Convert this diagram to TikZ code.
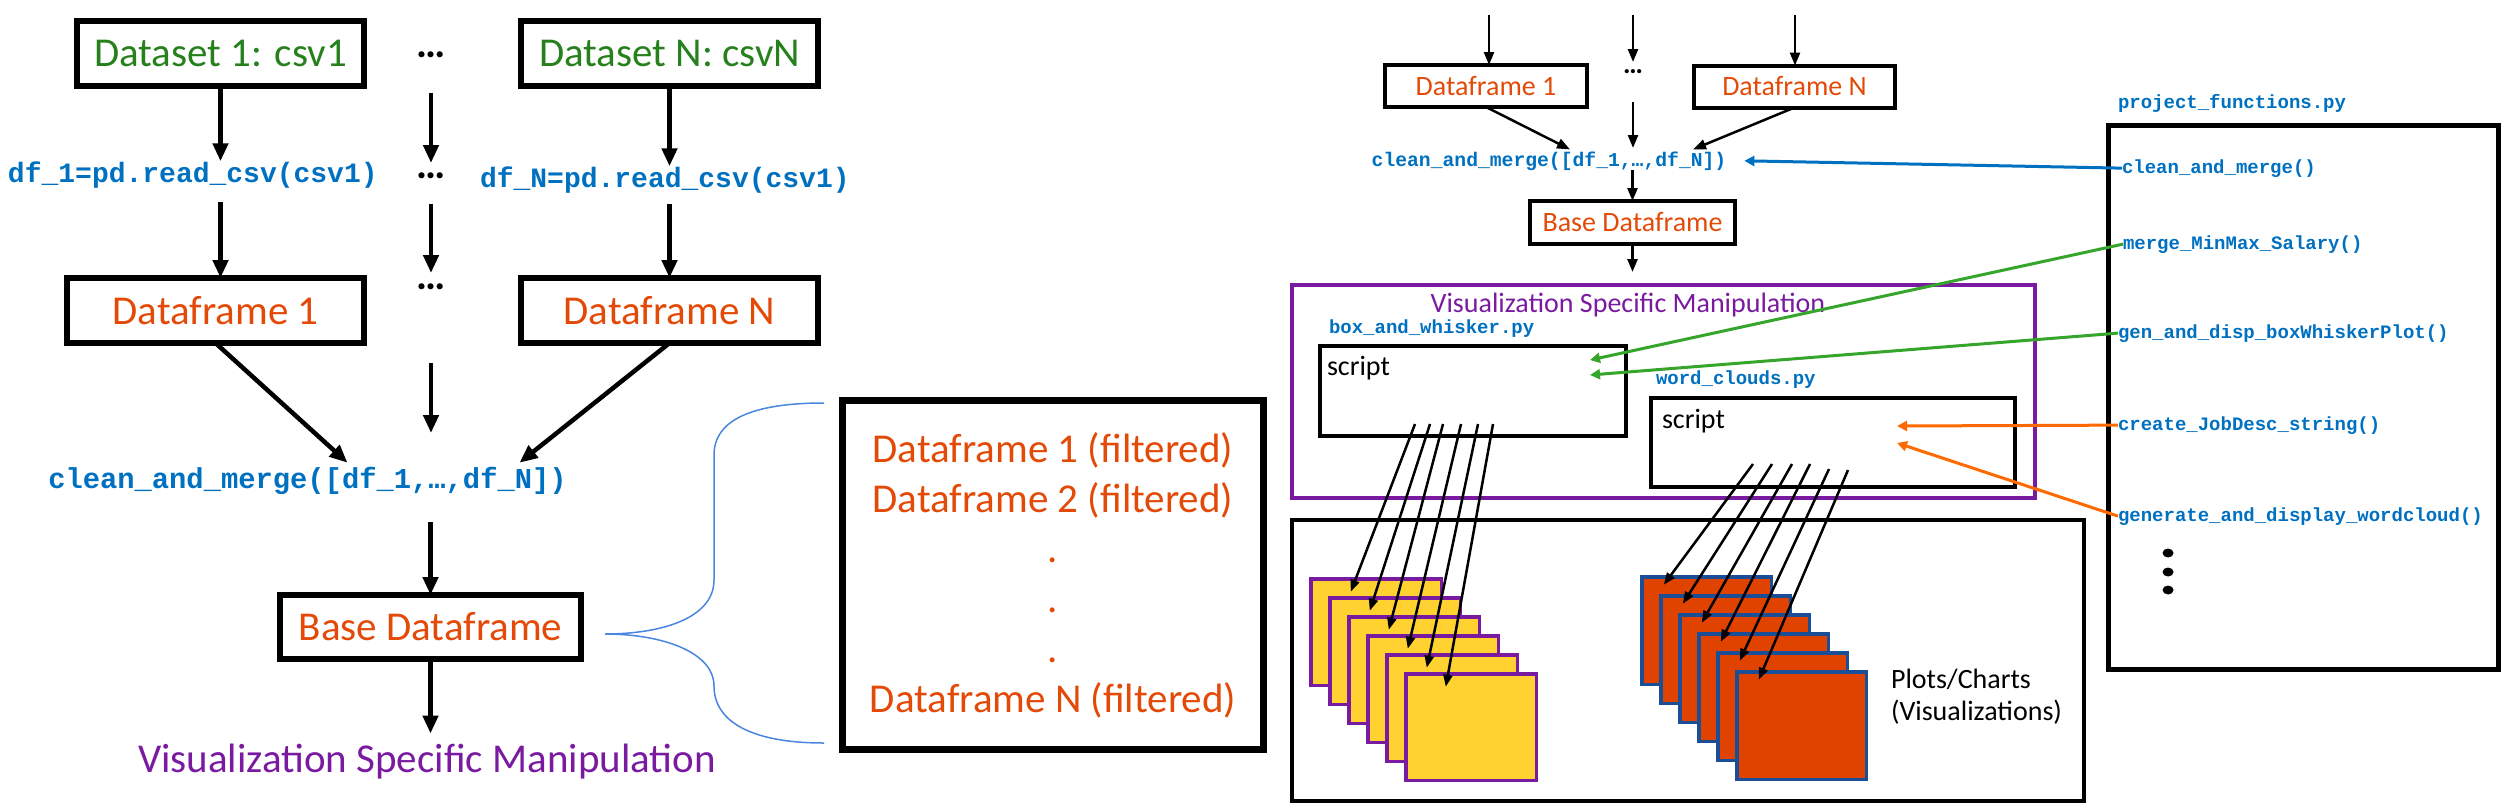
\documentclass[tikz,border=0pt]{standalone}
\usepackage{fontspec}
\setmainfont{Carlito}
\newfontfamily\codefont{Liberation Mono}
\usetikzlibrary{arrows.meta,calc}
\definecolor{dsgreen}{HTML}{26801C}
\definecolor{dforange}{HTML}{E34A08}
\definecolor{codeblue}{HTML}{0070C0}
\definecolor{vizpurple}{HTML}{7A1AA0}
\definecolor{sqyellow}{HTML}{FFD232}
\definecolor{sqred}{HTML}{E04300}
\definecolor{sqblue}{HTML}{1A4F98}
\definecolor{lngreen}{HTML}{36A52B}
\definecolor{lnorange}{HTML}{FF6A00}
\definecolor{bracecol}{HTML}{4A86E0}
\newcommand\myfs[2]{\fontsize{#1}{#2}\selectfont}
\begin{document}
\begin{tikzpicture}[x=1pt,y=-1pt,
 every node/.style={inner sep=0pt,outer sep=0pt},
 bigbox/.style={draw,line width=6pt},
 smallbox/.style={draw,line width=4pt},
 arrL/.style={line width=4.5pt,-{Triangle[length=18pt,width=15pt]}},
 arrR/.style={line width=2.5pt,-{Triangle[length=13pt,width=10pt]}},
 arrS/.style={line width=2.5pt,-{Triangle[length=12pt,width=9pt]}},
 arrC/.style={line width=3pt,-{Triangle[length=10pt,width=10pt]}},
 bigtxt/.style={font=\myfs{41}{50}},
 midtxt/.style={font=\myfs{28}{32}},
 dotsL/.style={font=\myfs{41}{50}\bfseries,anchor=base},
 dotsR/.style={font=\myfs{28}{32}\bfseries,anchor=base},
 codeL/.style={font=\codefont\bfseries\myfs{28}{32},text=codeblue},
 codeR/.style={font=\codefont\bfseries\myfs{19}{22},text=codeblue},
 ysq/.style={draw=vizpurple,fill=sqyellow,line width=3.5pt,minimum width=130.5pt,minimum height=106.5pt},
 rsq/.style={draw=sqblue,fill=sqred,line width=3.5pt,minimum width=129.5pt,minimum height=107.5pt},
 bracestyle/.style={draw=bracecol,line width=1.5pt}
]
\useasboundingbox (0,0) rectangle (2510,811);

% ---------------- left part ----------------
\node[bigbox,minimum width=287pt,minimum height=65pt,text=dsgreen,bigtxt] (ds1) at (220.5,53.5) {Dataset 1: csv1};
\node[bigbox,minimum width=297pt,minimum height=65pt,text=dsgreen,bigtxt] (dsN) at (669.5,53.5) {Dataset N: csvN};
\node[dotsL] (dA) at (431,57) {…};
\node[codeL,anchor=base west] (c1) at (8,182) {df\_1=pd.read\_csv(csv1)};
\node[dotsL] (dB) at (431,178) {…};
\node[codeL,anchor=base west] (cN) at (480,187) {df\_N=pd.read\_csv(csv1)};
\node[bigbox,minimum width=297pt,minimum height=65pt,text=dforange,bigtxt] (df1) at (215.5,310.5) {Dataframe 1};
\node[dotsL] (dC) at (431,289) {…};
\node[bigbox,minimum width=297pt,minimum height=65pt,text=dforange,bigtxt] (dfN) at (669.5,310.5) {Dataframe N};
\node[codeL,font=\codefont\bfseries\myfs{28.8}{32},anchor=base] (cm1) at (307.5,488) {clean\_and\_merge([df\_1,…,df\_N])};
\node[bigbox,minimum width=301pt,minimum height=64pt,text=dforange,bigtxt] (base1) at (430.5,627) {Base Dataframe};
\node[text=vizpurple,bigtxt,anchor=base] (viz1) at (427,772) {Visualization Specific Manipulation};
\node[draw,line width=7pt,minimum width=421pt,minimum height=349pt,text=dforange,bigtxt,align=center] (filt) at (1053,575)
  {Dataframe 1 (filtered)\\Dataframe 2 (filtered)\\.\\.\\.\\Dataframe N (filtered)};

\coordinate (mA1) at (431,93);  \coordinate (mA2) at (431,163);
\coordinate (mB1) at (431,204); \coordinate (mB2) at (431,273);
\coordinate (mC1) at (431,363); \coordinate (mC2) at (431,433);

\draw[arrL] (ds1.south) -- (ds1.south |- c1.north);
\draw[arrL] (dsN.south) -- (dsN.south |- cN.north);
\draw[arrL] (mA1) -- (mA2);
\draw[arrL,shorten <=14pt] (ds1.south |- c1.south) -- (ds1.south |- df1.north);
\draw[arrL,shorten <=11pt] (dsN.south |- cN.south) -- (dsN.south |- dfN.north);
\draw[arrL] (mB1) -- (mB2);
\draw[arrL] (df1.south) -- ([xshift=40pt,yshift=4pt]cm1.north);
\draw[arrL] (dfN.south) -- ([xshift=212pt,yshift=4pt]cm1.north);
\draw[arrL] (mC1) -- (mC2);
\draw[arrL,shorten <=28pt] (base1.north |- cm1.south) -- (base1.north);
\draw[arrL] (base1.south) -- ([yshift=10pt]base1.south |- viz1.north);

% brace
\draw[bracestyle] (824,403) .. controls (752,403) and (714,420) .. (714,455) -- (714,580)
  .. controls (714,618) and (662,634) .. (605,634)
  .. controls (662,634) and (714,652) .. (714,686)
  .. controls (714,722) and (752,743) .. (824,743);

% ---------------- right part ----------------
\node[smallbox,minimum width=202pt,minimum height=42pt,text=dforange,midtxt] (df1r) at (1486,86) {Dataframe 1};
\node[smallbox,minimum width=201pt,minimum height=42pt,text=dforange,midtxt] (dfNr) at (1794.5,86.5) {Dataframe N};
\node[dotsR] (dR) at (1633,73) {…};
\node[codeR,font=\codefont\bfseries\myfs{19.7}{22},anchor=base] (cm2) at (1549,166) {clean\_and\_merge([df\_1,…,df\_N])};
\node[smallbox,minimum width=205pt,minimum height=43pt,text=dforange,midtxt] (base2) at (1632.5,222.5) {Base Dataframe};
\node[draw=vizpurple,line width=4pt,minimum width=743pt,minimum height=213pt] (vizbox) at (1663.5,391.5) {};
\node[text=vizpurple,midtxt,anchor=base] (viz2) at (1628,312) {Visualization Specific Manipulation};
\node[codeR,anchor=base west] (bwlbl) at (1329,333) {box\_and\_whisker.py};
\node[smallbox,minimum width=306pt,minimum height=90pt] (sb1) at (1473,391) {};
\node[midtxt,anchor=base west] (sc1) at (1327,375) {script};
\node[codeR,anchor=base west] (wclbl) at (1656,384) {word\_clouds.py};
\node[smallbox,minimum width=364pt,minimum height=89pt] (sb2) at (1833,442.5) {};
\node[midtxt,anchor=base west] (sc2) at (1662,428) {script};
\node[smallbox,minimum width=792pt,minimum height=281pt] (plots) at (1688,660.5) {};
\node[draw,line width=4.5pt,minimum width=390pt,minimum height=544pt] (proj) at (2303.5,397.5) {};
\node[codeR,anchor=base west] (projlbl) at (2118,108) {project\_functions.py};
\node[codeR,anchor=base west] (fn1) at (2122,173) {clean\_and\_merge()};
\node[codeR,anchor=base west] (fn2) at (2123,249) {merge\_MinMax\_Salary()};
\node[codeR,anchor=base west] (fn3) at (2118,338) {gen\_and\_disp\_boxWhiskerPlot()};
\node[codeR,anchor=base west] (fn4) at (2118,430) {create\_JobDesc\_string()};
\node[codeR,anchor=base west] (fn5) at (2118,521) {generate\_and\_display\_wordcloud()};
\fill (2168,553) ellipse (5.5pt and 4.5pt);
\fill (2168,572) ellipse (5.5pt and 4.5pt);
\fill (2168,590) ellipse (5.5pt and 4.5pt);

% squares
\foreach \k in {0,...,5} {
  \node[ysq] (y\k) at ({1376+19*\k},{632+19*\k}) {};
}
\foreach \k in {0,...,5} {
  \node[rsq] (r\k) at ({1706.5+19*\k},{630.5+19*\k}) {};
}
\node[midtxt,anchor=base west] (pl1) at (1891,688) {Plots/Charts};
\node[midtxt,anchor=base west] (pl2) at (1891,720) {(Visualizations)};

% top arrows right
\coordinate (tA) at (1489,15); \coordinate (tB1) at (1633,15); \coordinate (tB2) at (1633,62);
\coordinate (tC) at (1795,15);
\coordinate (mR1) at (1633,102); \coordinate (mR2) at (1633,148);
\draw[arrR] (tA) -- (tA |- df1r.north);
\draw[arrR] (tB1) -- (tB2);
\draw[arrR] (tC) -- (tC |- dfNr.north);
\draw[arrR] (mR1) -- (mR2);
\draw[arrR] (df1r.south) -- ([xshift=21pt,yshift=2pt]cm2.north);
\draw[arrR] (dfNr.south) -- ([xshift=144pt,yshift=2pt]cm2.north);
\draw[arrR] (base2.north |- cm2.south) -- (base2.north);
\draw[arrR,shorten >=13pt] (base2.south) -- (base2.south |- vizbox.north);

% script arrows
\foreach \k/\dx/\dy in {0/-58/33,1/-43/33,2/-30/33,3/-12/33,4/5/33,5/20/33} {
  \draw[arrS] ($(sb1.center)+(\dx,\dy)$) -- ($(y\k.north west)+(40,13)$);
}
\foreach \k/\dx/\dy in {0/-80/21.5,1/-61/21.5,2/-41/21.5,3/-23/21.5,4/-4/26.5,5/15/27.5} {
  \draw[arrS] ($(sb2.center)+(\dx,\dy)$) -- ($(r\k.north west)+(22,8)$);
}

% coloured connectors
\draw[arrC,codeblue] (fn1.west) -- ($(cm2.east)+(18,0)$);
\draw[arrC,lngreen] (fn2.west) -- ($(sb1.center)+(117,-31)$);
\draw[arrC,lngreen] (fn3.west) -- ($(sb1.center)+(117,-16)$);
\draw[arrC,lnorange] (fn4.west) -- ($(sb2.center)+(64,-16.5)$);
\draw[arrC,lnorange] (fn5.west) -- ($(sb2.center)+(64,0.5)$);
\end{tikzpicture}
\end{document}
